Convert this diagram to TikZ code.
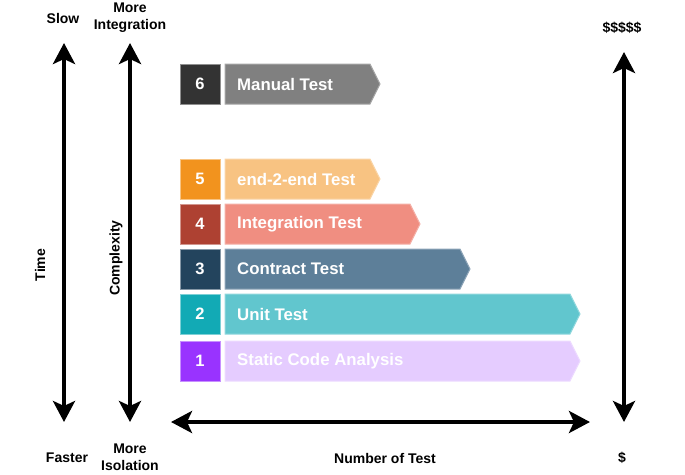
\documentclass[tikz,border=0pt]{standalone}
\usepackage{fontspec}
\setmainfont{Liberation Sans}
\usepackage{tikz}
\usetikzlibrary{arrows.meta}

\definecolor{box6}{HTML}{333333}
\definecolor{bar6}{HTML}{808080}
\definecolor{box5}{HTML}{F2931E}
\definecolor{bar5}{HTML}{F8C382}
\definecolor{box4}{HTML}{AE4132}
\definecolor{bar4}{HTML}{F08E81}
\definecolor{box3}{HTML}{23445D}
\definecolor{bar3}{HTML}{5D7F99}
\definecolor{box2}{HTML}{12AAB5}
\definecolor{bar2}{HTML}{61C6CE}
\definecolor{box1}{HTML}{9933FF}
\definecolor{bar1}{HTML}{E5CCFF}

\begin{document}
\begin{tikzpicture}[x=1pt, y=-1pt,
    numbox/.style={draw=#1!55!white, fill=#1, line width=1pt, minimum size=40pt,
        inner sep=0pt, text=white, font=\bfseries\fontsize{16.5}{18}\selectfont},
    testbar/.style={draw=#1!70!white, fill=#1, line width=1pt},
    barlabel/.style={anchor=west, inner sep=0pt, text=white,
        font=\bfseries\fontsize{16.8}{18}\selectfont},
    axislabel/.style={align=center, inner sep=0pt,
        font=\bfseries\fontsize{14}{17}\selectfont},
    bigarrow/.style={line width=4pt,
        {Stealth[length=21pt,width=22pt,inset=5pt]}-{Stealth[length=21pt,width=22pt,inset=5pt]}}]
    \useasboundingbox (0,0) rectangle (685,474);

    % Row 6
    \node[numbox=box6] (n6) at (200,84) {6};
    \filldraw[testbar=bar6] (225,64) -- (370,64) -- (380,84) -- (370,104) -- (225,104) -- cycle;
    \node[barlabel] (t6) at (237,84) {Manual Test};

    % Row 5
    \node[numbox=box5] (n5) at (200,179) {5};
    \filldraw[testbar=bar5] (225,159) -- (370,159) -- (380,179) -- (370,199) -- (225,199) -- cycle;
    \node[barlabel] (t5) at (237,179) {end-2-end Test};

    % Row 4
    \node[numbox=box4] (n4) at (200,224) {4};
    \filldraw[testbar=bar4] (225,204) -- (410,204) -- (420,224) -- (410,244) -- (225,244) -- cycle;
    \node[barlabel] (t4) at (237,224) {Integration Test};

    % Row 3
    \node[numbox=box3] (n3) at (200,269) {3};
    \filldraw[testbar=bar3] (225,249) -- (460,249) -- (470,269) -- (460,289) -- (225,289) -- cycle;
    \node[barlabel] (t3) at (237,269) {Contract Test};

    % Row 2
    \node[numbox=box2] (n2) at (200,314) {2};
    \filldraw[testbar=bar2] (225,294) -- (570,294) -- (580,314) -- (570,334) -- (225,334) -- cycle;
    \node[barlabel] (t2) at (237,314) {Unit Test};

    % Row 1
    \node[numbox=box1] (n1) at (200,361) {1};
    \filldraw[testbar=bar1] (225,341) -- (570,341) -- (580,361) -- (570,381) -- (225,381) -- cycle;
    \node[barlabel] (t1) at (237,361) {Static Code Analysis};

    % Time
    \coordinate (timetop) at (64,43);
    \coordinate (timebot) at (64,422);
    \draw[bigarrow] (timetop) -- (timebot);
    \node[axislabel] (slow) at (63,18) {Slow};
    \node[axislabel] (faster) at (67,458) {Faster};
    \node[axislabel, rotate=90] (time) at (40,265) {Time};

    % Complexity
    \coordinate (cpxtop) at (130,43);
    \coordinate (cpxbot) at (130,422);
    \draw[bigarrow] (cpxtop) -- (cpxbot);
    \node[axislabel] (integ) at (130,18) {More\\Integration};
    \node[axislabel] (isol) at (130,457) {More\\Isolation};
    \node[axislabel, rotate=90] (cpx) at (116,258) {Complexity};

    % Number of Test
    \coordinate (numleft) at (171,422);
    \coordinate (numright) at (590,422);
    \draw[bigarrow] (numleft) -- (numright);
    \node[axislabel] (num) at (385,458) {Number of Test};

    % Cost
    \coordinate (costtop) at (624,52);
    \coordinate (costbot) at (624,422);
    \draw[bigarrow] (costtop) -- (costbot);
    \node[axislabel] (high) at (622,28) {\$\$\$\$\$};
    \node[axislabel] (low) at (622,458) {\$};
\end{tikzpicture}
\end{document}
